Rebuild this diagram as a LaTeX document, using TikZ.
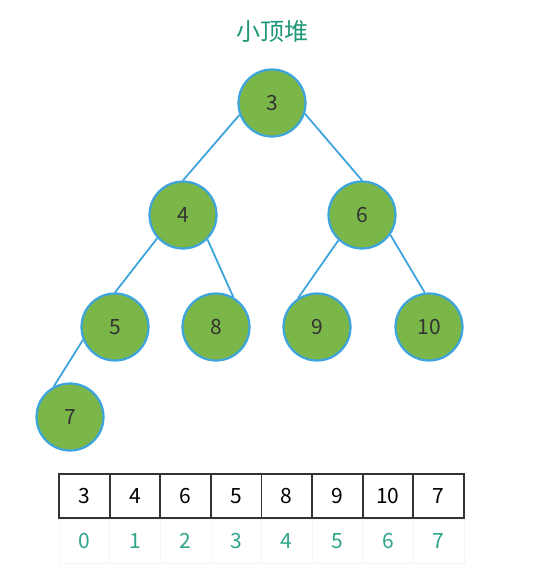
\documentclass[tikz,border=0pt]{standalone}
\usepackage{fontspec}
\usepackage{xcolor}
\newfontfamily\cjk{Noto Sans CJK SC}
\definecolor{heapgreen}{RGB}{122,182,72}
\definecolor{heapblue}{RGB}{62,164,220}
\definecolor{heapteal}{RGB}{30,150,120}
\definecolor{idxteal}{RGB}{46,165,138}
\tikzset{heapnode/.style={circle, draw=heapblue, line width=2.2pt, fill=heapgreen,
    minimum size=67pt, inner sep=0pt, text=black!80, font=\cjk\fontsize{21}{21}\selectfont},
  heapedge/.style={draw=heapblue, line width=1.8pt},
  cellbox/.style={draw=black!80, line width=1.8pt, minimum width=50.6pt, minimum height=44pt,
    inner sep=0pt, font=\cjk\fontsize{21}{21}\selectfont},
  idxbox/.style={draw=black!4, line width=0.6pt, minimum width=50.6pt, minimum height=44pt,
    inner sep=0pt, text=idxteal, font=\cjk\fontsize{21}{21}\selectfont}}

\begin{document}
\begin{tikzpicture}[x=1pt,y=-1pt]
  \useasboundingbox (0,0) rectangle (540,576);
  \node[text=heapteal, font=\cjk\fontsize{24}{24}\selectfont] (title) at (272,31) {小顶堆};
  % the heap
  \node[heapnode] (n3) at (272,103) {3};
  \node[heapnode] (n4) at (183,215) {4};
  \node[heapnode] (n6) at (362,215) {6};
  \node[heapnode] (n5) at (115,327) {5};
  \node[heapnode] (n8) at (216,327) {8};
  \node[heapnode] (n9) at (317,327) {9};
  \node[heapnode] (n10) at (429,327) {10};
  \node[heapnode] (n7) at (70,417) {7};
  \foreach \a/\b in {n3.200/n4.north, n3.342/n6.north, n4.222/n5.north, n4.315/n8.60,
      n6.227/n9.123, n6.325/n10.97, n5.202/n7.118}
    \path[heapedge] (\a) -- (\b);
  % the array
  \foreach \v [count=\i from 0] in {3,4,6,5,8,9,10,7} {
    \node[idxbox] (i\i) at (84.3+50.6*\i,541) {\i};
    \node[cellbox] (a\i) at (84.3+50.6*\i,496) {\v};
  }
\end{tikzpicture}
\end{document}
